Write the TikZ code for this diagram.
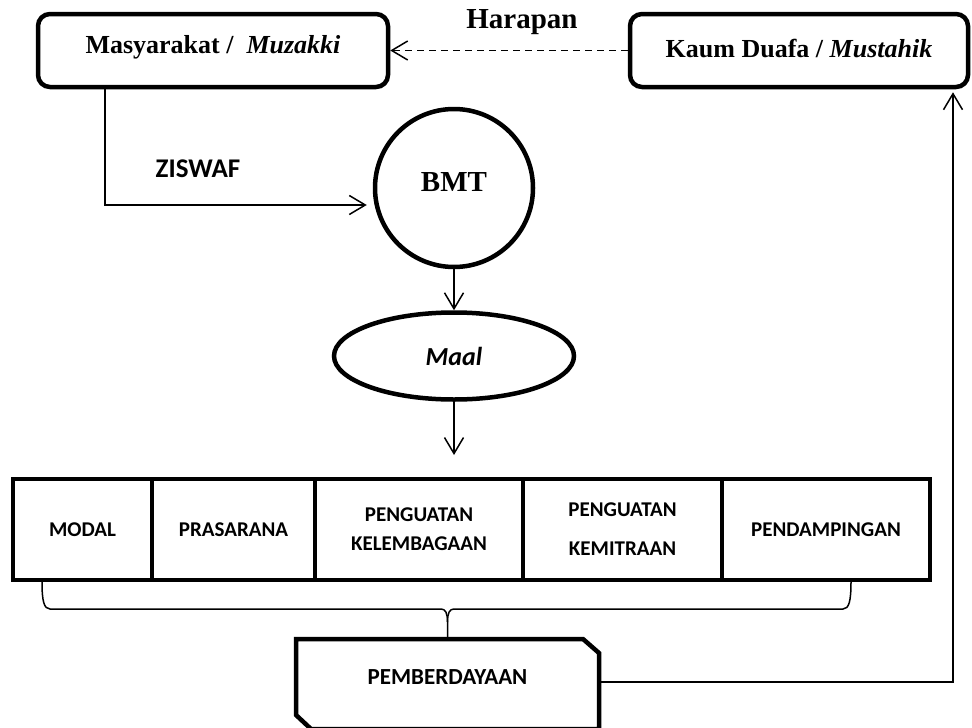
\documentclass[tikz,border=0pt]{standalone}
\usepackage{fontspec}
\setmainfont{Liberation Serif}
\newfontfamily\carlito{Carlito}
\usetikzlibrary{positioning, arrows.meta, calc, shapes.geometric}
\definecolor{garis}{HTML}{000000}

\tikzset{
  kotak/.style={draw=garis, line width=4.5pt, rounded corners=12pt, minimum width=350pt,
    minimum height=73pt, text height=18pt, font=\bfseries\fontsize{26}{31}\selectfont},
  program/.style={draw=garis, line width=4.5pt, outer sep=0pt, minimum height=101pt, align=center,
    font=\carlito\bfseries\fontsize{21}{29}\selectfont},
  panah/.style={-{Straight Barb[length=16pt, width=19pt]}, line width=1.5pt, draw=garis},
}

\begin{document}
\begin{tikzpicture}[x=1pt, y=-1pt]
  \useasboundingbox (0,0) rectangle (972,728);
  % baris atas
  \node[kotak, text depth=13pt] (muzakki) at (213,50.5) {Masyarakat / \ \textit{Muzakki}};
  \node[kotak, minimum width=338pt, text depth=5pt] (mustahik) at (799,50.5) {Kaum Duafa / \textit{Mustahik}};
  \node[font=\bfseries\fontsize{29}{35}\selectfont] (harapan) at (522,22) {Harapan};
  \draw[panah, dash pattern=on 7pt off 5pt] (mustahik.west) -- (muzakki.east);

  % BMT dan Maal
  \node[draw=garis, circle, line width=4.5pt, minimum size=158pt, text depth=11pt,
    font=\bfseries\fontsize{29}{35}\selectfont] (bmt) at (454,188) {BMT};
  \node[draw=garis, ellipse, line width=4.5pt, minimum width=240pt, minimum height=87pt,
    font=\carlito\bfseries\itshape\fontsize{26}{31}\selectfont] (maal) at (454,356) {Maal};
  \node[font=\carlito\bfseries\fontsize{27}{32}\selectfont] (ziswaf) at (198,168.5) {ZISWAF};
  \coordinate (belok) at (105,205);
  \draw[panah, shorten >=6pt] (muzakki.south -| belok) -- (belok) -- (belok -| bmt.west);
  \draw[panah] (bmt.south) -- (maal.north);
  \coordinate (turun) at (454,455);
  \draw[panah] (maal.south) -- (turun);

  % lima program
  \node[program, minimum width=139pt] (modal) at (82.5,529.5) {MODAL};
  \node[program, minimum width=163pt, right=0pt of modal] (prasarana) {PRASARANA};
  \node[program, minimum width=208pt, right=0pt of prasarana] (kelembagaan) {PENGUATAN\\KELEMBAGAAN};
  \node[program, minimum width=199pt, right=0pt of kelembagaan] (kemitraan) {PENGUATAN\\[10pt]KEMITRAAN};
  \node[program, minimum width=208pt, right=0pt of kemitraan] (pendampingan) {PENDAMPINGAN};

  % pemberdayaan
  \node[minimum width=303pt, minimum height=90pt, outer sep=0pt, text depth=13pt,
    font=\carlito\bfseries\fontsize{23}{28}\selectfont] (pemberdayaan) at (447.5,684) {PEMBERDAYAAN};
  \draw[line width=4.5pt, draw=garis] (pemberdayaan.north west) -- ($(pemberdayaan.north east)+(-16,0)$)
    -- ($(pemberdayaan.north east)+(0,14)$) -- (pemberdayaan.south east)
    -- ($(pemberdayaan.south west)+(15,0)$) -- ($(pemberdayaan.south west)+(0,-14)$) -- cycle;

  % kurung kurawal
  \coordinate (kiri) at (42,582);
  \coordinate (kanan) at (851,582);
  \coordinate (puncak) at (447.5,622);
  \draw[line width=1.5pt, draw=garis] (kiri) .. controls (42,601) and (44,609) .. (50,609) -- (441,609)
    .. controls (445.5,609) and (447.5,613) .. (puncak) -- (pemberdayaan.north);
  \draw[line width=1.5pt, draw=garis] (kanan) .. controls (851,601) and (849,609) .. (843,609) -- (454,609)
    .. controls (449.5,609) and (447.5,613) .. (puncak);

  % kembali ke mustahik
  \coordinate (naik) at (953,682);
  \draw[panah, shorten >=3pt] (pemberdayaan.east |- naik) -- (naik) -- (naik |- mustahik.south);
\end{tikzpicture}
\end{document}
